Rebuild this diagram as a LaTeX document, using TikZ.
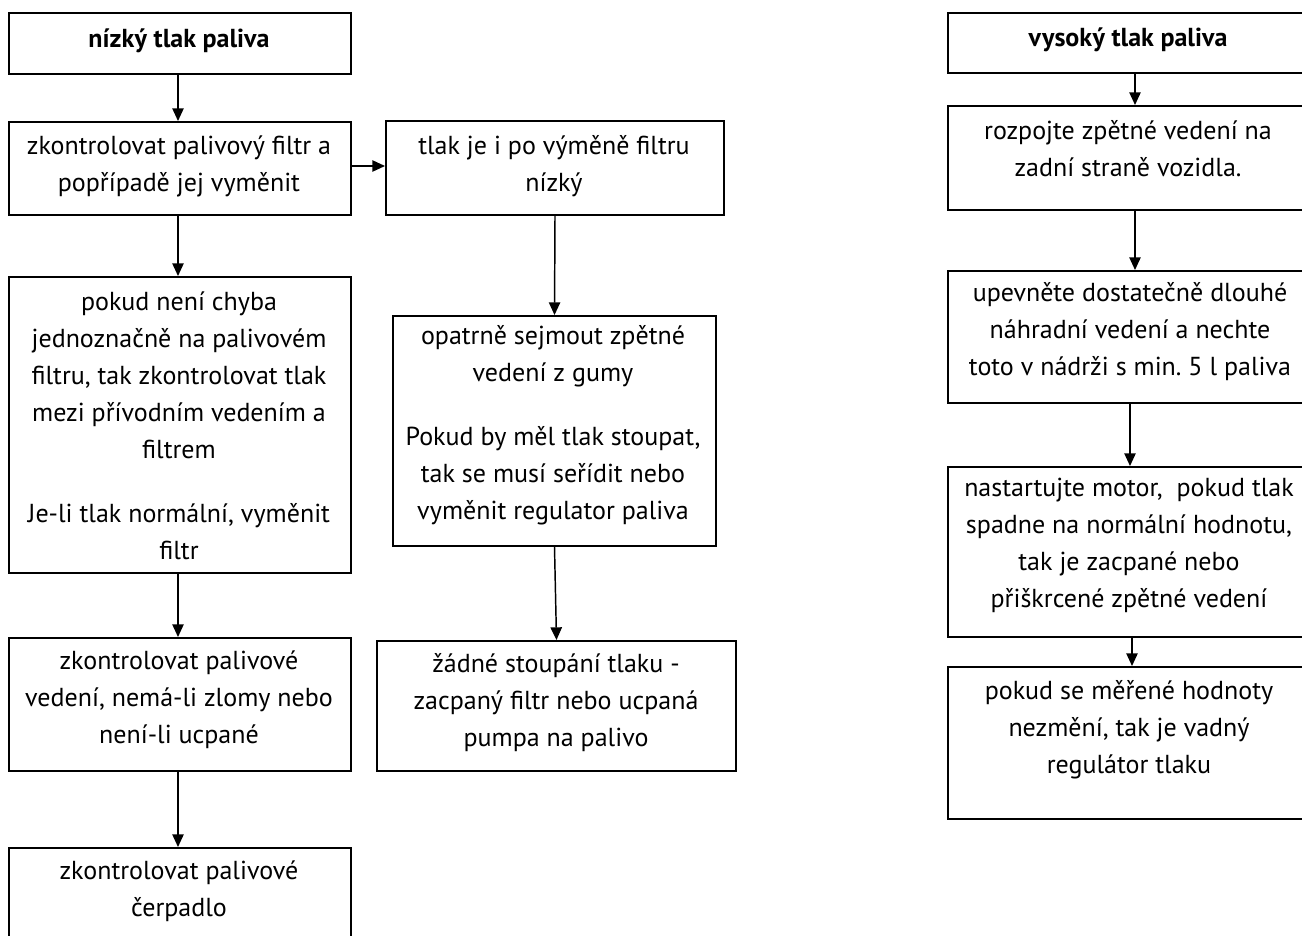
\documentclass[tikz,border=0pt]{standalone}
\usepackage{fontspec}
\setmainfont{PT Sans}
\usetikzlibrary{arrows.meta}
\begin{document}
\begin{tikzpicture}[x=0.75pt,y=-0.75pt,
  box/.style={draw=black,line width=1.5pt,rectangle,inner sep=0pt,anchor=north west},
  txt/.style={align=center,inner sep=0pt,font=\fontsize{19.5}{27.75}\selectfont},
  arr/.style={line width=1.1pt,-{Triangle[width=8.5pt,length=9.5pt]}}]
\clip (0,0) rectangle (1302,935);
% left column
\node[box,minimum width=342*0.75pt,minimum height=61*0.75pt] (b1) at (8,12) {};
\node[box,minimum width=342*0.75pt,minimum height=93*0.75pt] (b2) at (8,121) {};
\node[box,minimum width=342*0.75pt,minimum height=296*0.75pt] (b3) at (8,276) {};
\node[box,minimum width=342*0.75pt,minimum height=133*0.75pt] (b4) at (8,637) {};
\node[box,minimum width=342*0.75pt,minimum height=120*0.75pt] (b5) at (8,847) {};
% middle column
\node[box,minimum width=338*0.75pt,minimum height=94*0.75pt] (b6) at (385,120) {};
\node[box,minimum width=323*0.75pt,minimum height=230*0.75pt] (b7) at (392,315) {};
\node[box,minimum width=359*0.75pt,minimum height=130*0.75pt] (b8) at (376,640) {};
% right column
\node[box,minimum width=370*0.75pt,minimum height=60*0.75pt] (r1) at (947,12) {};
\node[box,minimum width=370*0.75pt,minimum height=104*0.75pt] (r2) at (947,105) {};
\node[box,minimum width=370*0.75pt,minimum height=132*0.75pt] (r3) at (947,270) {};
\node[box,minimum width=370*0.75pt,minimum height=170*0.75pt] (r4) at (947,466) {};
\node[box,minimum width=370*0.75pt,minimum height=152*0.75pt] (r5) at (947,666) {};
% texts
\node[txt,font=\fontsize{19.5}{27.75}\selectfont\bfseries] (t1) at (179,41) {nízký tlak paliva};
\node[txt] (t2) at (179,166) {zkontrolovat palivový filtr a\\popřípadě jej vyměnit};
\node[txt] (t3) at (179,426) {pokud není chyba\\jednoznačně na palivovém\\filtru, tak zkontrolovat tlak\\mezi přívodním vedením a\\filtrem\\[20pt]Je-li tlak normální, vyměnit\\filtr};
\node[txt] (t4) at (179,700) {zkontrolovat palivové\\vedení, nemá-li zlomy nebo\\není-li ucpané};
\node[txt] (t5) at (179,891) {zkontrolovat palivové\\čerpadlo};
\node[txt] (t6) at (554,166) {tlak je i po výměně filtru\\nízký};
\node[txt] (t7) at (553,425) {opatrně sejmout zpětné\\vedení z gumy\\[20pt]Pokud by měl tlak stoupat,\\tak se musí seřídit nebo\\vyměnit regulator paliva};
\node[txt] (t8) at (556,703) {žádné stoupání tlaku -\\zacpaný filtr nebo ucpaná\\pumpa na palivo};
\node[txt,font=\fontsize{19.5}{27.75}\selectfont\bfseries] (u1) at (1128,40) {vysoký tlak paliva};
\node[txt] (u2) at (1128,149) {rozpojte zpětné vedení na\\zadní straně vozidla.};
\node[txt] (u3) at (1130,332) {upevněte dostatečně dlouhé\\náhradní vedení a nechte\\toto v nádrži s min.\ 5 l paliva};
\node[txt] (u4) at (1129,545) {nastartujte motor,\ \ pokud tlak\\spadne na normální hodnotu,\\tak je zacpané nebo\\přiškrcené zpětné vedení};
\node[txt] (u5) at (1129,730) {pokud se měřené hodnoty\\nezmění, tak je vadný\\regulátor tlaku};
% arrows
\coordinate (xl) at (178,0);
\coordinate (xr) at (1135,0);
\coordinate (xr3) at (1130,0);
\coordinate (xr4) at (1132,0);
\coordinate (ym) at (0,166);
\draw[arr] (b1.south -| xl) -- (b2.north -| xl);
\draw[arr] (b2.south -| xl) -- (b3.north -| xl);
\draw[arr] (b3.south -| xl) -- (b4.north -| xl);
\draw[arr] (b4.south -| xl) -- (b5.north -| xl);
\draw[arr] (b2.east |- ym) -- (b6.west |- ym);
\draw[arr] (b6.south) -- (b7.north);
\draw[arr] (b7.south) -- (b8.north);
\draw[arr] (r1.south -| xr) -- (r2.north -| xr);
\draw[arr] (r2.south -| xr) -- (r3.north -| xr);
\draw[arr] (r3.south -| xr3) -- (r4.north -| xr3);
\draw[arr] (r4.south -| xr4) -- (r5.north -| xr4);
\end{tikzpicture}
\end{document}
